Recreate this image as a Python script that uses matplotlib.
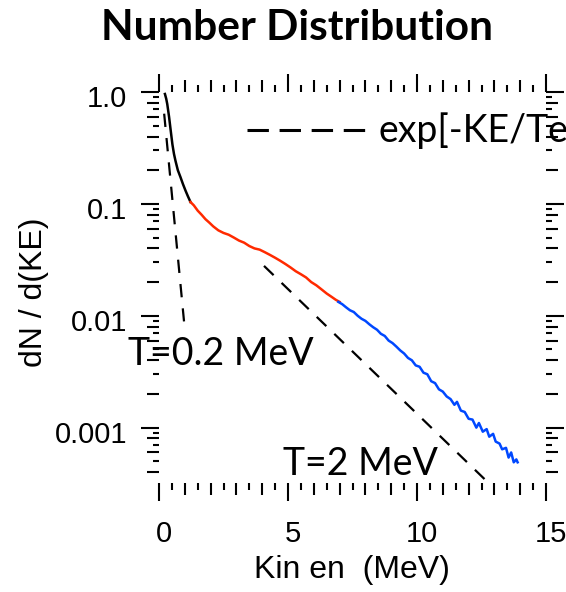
import numpy as np
import matplotlib
matplotlib.use("Agg")
import matplotlib.pyplot as plt
from matplotlib.lines import Line2D
from matplotlib.transforms import ScaledTranslation
from matplotlib.ticker import FixedLocator, FixedFormatter, MultipleLocator, LogLocator, NullFormatter

# spectrum (kinetic energy in MeV, dN/dKE)
ke_low = [0.23, 0.28, 0.32, 0.39, 0.45, 0.52, 0.58, 0.64, 0.73, 0.83, 0.93, 1.03, 1.12, 1.22]
dn_low = [0.96, 0.87, 0.78, 0.60, 0.46, 0.34, 0.28, 0.242, 0.20, 0.174, 0.150, 0.131, 0.117, 0.104]

ke_mid = [1.22, 1.35, 1.50, 1.65, 1.80, 1.95, 2.10, 2.30, 2.50, 2.70, 2.90, 3.10, 3.30, 3.50,
          3.70, 3.90, 4.10, 4.30, 4.50, 4.70, 4.90, 5.10, 5.30, 5.50, 5.70, 5.90, 6.10, 6.30,
          6.50, 6.70, 6.85, 7.00]
dn_mid = [0.104, 0.097, 0.087, 0.080, 0.073, 0.068, 0.063, 0.058, 0.055, 0.053, 0.050, 0.047,
          0.045, 0.042, 0.040, 0.039, 0.037, 0.035, 0.033, 0.031, 0.029, 0.027, 0.025, 0.0235,
          0.022, 0.020, 0.0187, 0.0172, 0.0158, 0.0147, 0.0139, 0.0133]

ke_high = [6.95, 7.10, 7.25, 7.40, 7.55, 7.70, 7.85, 8.00, 8.15, 8.30, 8.45, 8.60, 8.75, 8.90,
           9.05, 9.20, 9.35, 9.50, 9.65, 9.80, 9.95, 10.10, 10.25, 10.40, 10.55, 10.70, 10.85,
           11.00, 11.15, 11.30, 11.45, 11.55, 11.70, 11.85, 12.00, 12.15, 12.30, 12.40, 12.55,
           12.70, 12.80, 12.95, 13.05, 13.20, 13.30, 13.45, 13.55, 13.65, 13.75, 13.85, 13.90]
dn_high = [0.0133, 0.0127, 0.0119, 0.0112, 0.0108, 0.0100, 0.0094, 0.0090, 0.0084, 0.0079,
           0.0075, 0.0069, 0.0066, 0.0060, 0.0057, 0.0053, 0.0049, 0.0046, 0.0042, 0.0040,
           0.0036, 0.0035, 0.0031, 0.0030, 0.0026, 0.0025, 0.0022, 0.0021, 0.0019, 0.0018,
           0.0016, 0.00170, 0.00142, 0.00138, 0.00120, 0.00118, 0.00100, 0.00110, 0.00092,
           0.00097, 0.00083, 0.00088, 0.00075, 0.00072, 0.00064, 0.00066, 0.00054, 0.00060,
           0.00049, 0.00052, 0.00049]

# exp[-KE/Te] guide lines (end points)
fit_cold_x = [0.20, 0.97]
fit_cold_y = [0.64, 0.0089]
fit_hot_x = [4.07, 12.9]
fit_hot_y = [0.0279, 0.00030]

x_ticks = [0, 5, 10, 15]
y_ticks = [1.0, 0.1, 0.01, 0.001]
y_tick_labels = ["1.0", "0.1", "0.01", "0.001"]

W, H = 566, 592
fig = plt.figure(figsize=(W / 100, H / 100), dpi=100)
ax = fig.add_axes([159 / W, 1 - 483 / H, (546 - 159) / W, (483 - 92) / H])

ax.plot(ke_low, dn_low, color="black", lw=1.8)
ax.plot(ke_mid, dn_mid, color="#ff2a00", lw=1.8)
ax.plot(ke_high, dn_high, color="#0048ff", lw=1.8)

for fx, fy in [(fit_cold_x, fit_cold_y), (fit_hot_x, fit_hot_y)]:
    ln, = ax.plot(fx, fy, color="black", lw=1.6, clip_on=False)
    ln.set_dashes((6, 5))

ax.set_yscale("log")
ax.set_xlim(0, 15)
ax.set_ylim(3.2e-4, 1.0)

for s in ax.spines.values():
    s.set_visible(False)

ax.xaxis.set_major_locator(FixedLocator(x_ticks))
ax.xaxis.set_minor_locator(MultipleLocator(0.5))
ax.yaxis.set_major_locator(FixedLocator(y_ticks))
ax.yaxis.set_major_formatter(FixedFormatter(y_tick_labels))
ax.yaxis.set_minor_locator(LogLocator(base=10, subs=np.arange(2, 10)))
ax.yaxis.set_minor_formatter(NullFormatter())

ax.tick_params(which="both", direction="out", top=True, right=True, width=1.5, color="black")
ax.tick_params(which="major", length=13, labelsize=21)
ax.tick_params(axis="x", which="major", pad=14)
ax.tick_params(axis="y", which="major", pad=10)

for lab in ax.get_xticklabels() + ax.get_yticklabels():
    lab.set_fontfamily("Liberation Sans")

# three tick lengths like the original
for t in ax.xaxis.get_minor_ticks():
    v = t.get_loc()
    L = 8.5 if abs(v - round(v)) < 1e-6 else 5
    t.tick1line.set_markersize(L)
    t.tick2line.set_markersize(L)
for t in ax.yaxis.get_minor_ticks():
    v = t.get_loc()
    m = round(v / 10 ** np.floor(np.log10(v) + 1e-9))
    L = 8.5 if m % 2 == 0 else 4
    t.tick1line.set_markersize(L)
    t.tick2line.set_markersize(L)

# labels a bit off the ticks, like the Igor export
for lab in ax.get_xticklabels():
    lab.set_transform(lab.get_transform() + ScaledTranslation(5 / 100, 0, fig.dpi_scale_trans))
for lab in ax.get_yticklabels():
    lab.set_transform(lab.get_transform() + ScaledTranslation(0, -4 / 100, fig.dpi_scale_trans))

fig.text(352 / W, 1 - 570 / H, "Kin en  (MeV)", ha="center", va="center",
         fontsize=23, family="Liberation Sans")
fig.text(34 / W, 1 - 292 / H, "dN / d(KE)", ha="center", va="center", rotation=90,
         fontsize=23, family="Liberation Sans")

fig.text(297 / W, 1 - 28 / H, "Number Distribution", ha="center", va="center",
         fontsize=30.5, fontweight="bold", family="Lato")

fig.text(128 / W, 1 - 365 / H, "T=0.2 MeV", ha="left", va="baseline", fontsize=27, family="Lato")
fig.text(283 / W, 1 - 475 / H, "T=2 MeV", ha="left", va="baseline", fontsize=27, family="Lato")
# runs off the right edge, as in the original slide
fig.text(378 / W, 1 - 142 / H, "exp[-KE/Te]", ha="left", va="baseline", fontsize=27, family="Lato")

leg = Line2D([247 / W, 370 / W], [1 - 130 / H] * 2, transform=fig.transFigure,
             color="black", lw=2.2)
leg.set_dashes((7, 3.5))
fig.add_artist(leg)

fig.savefig("out.png", dpi=100)
